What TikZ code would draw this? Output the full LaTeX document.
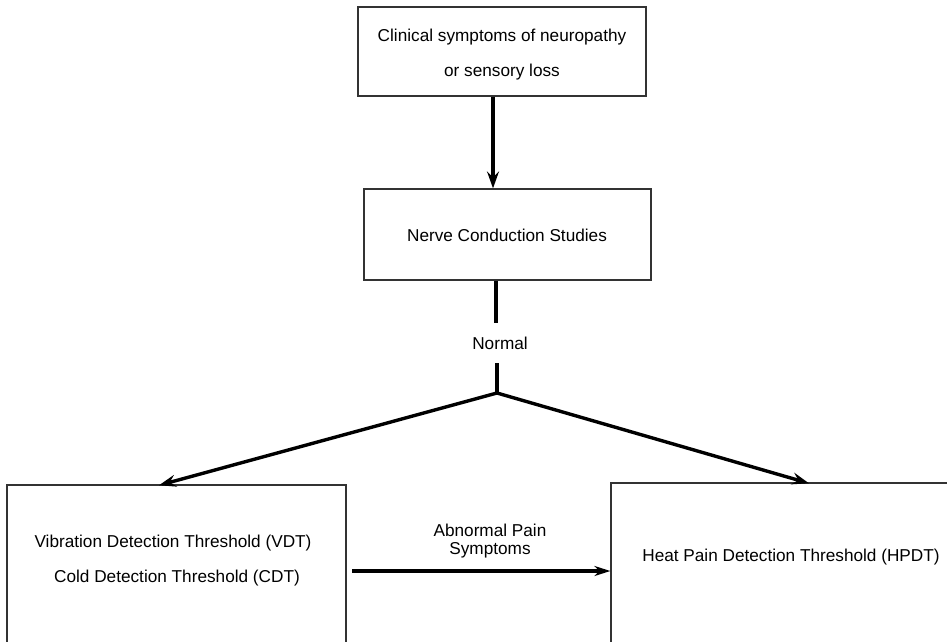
\documentclass[tikz,border=0pt]{standalone}
\usepackage{fontspec}
\setmainfont{Liberation Sans}
\usetikzlibrary{arrows.meta}
\begin{document}
\begin{tikzpicture}[x=1pt,y=-1pt,
  box/.style={draw=black!80,line width=1.2pt,rectangle,inner sep=0pt},
  txt/.style={font=\fontsize{17.2}{20}\selectfont,inner sep=0pt,anchor=center},
  arr/.style={line width=3.4pt,-{Stealth[length=17pt,width=12pt,inset=6pt]}},
  ln/.style={line width=3.4pt}]
\useasboundingbox (0,0) rectangle (947,642);
\clip (0,0) rectangle (947,642);
% boxes
\node[box,minimum width=288pt,minimum height=89pt] (top) at (502,51.5) {};
\node[txt] (toptxt1) at (502,37) {Clinical symptoms of neuropathy};
\node[txt] (toptxt2) at (502,72) {or sensory loss};
\node[box,minimum width=287pt,minimum height=91pt] (ncs) at (507.5,234.5) {};
\node[txt] (ncstxt) at (507,235) {Nerve Conduction Studies};
\node[box,minimum width=339pt,minimum height=190pt] (left) at (176.5,580) {};
\node[txt] (vdt) at (173,543) {Vibration Detection Threshold (VDT)};
\node[txt] (cdt) at (177,578) {Cold Detection Threshold (CDT)};
\node[box,minimum width=349pt,minimum height=190pt] (right) at (785.5,578) {};
\node[txt] (hpdt) at (791,557) {Heat Pain Detection Threshold (HPDT)};
\node[txt] (normal) at (500,343) {Normal};
\node[txt,align=center] (abn) at (490,541) {Abnormal Pain\\[-2pt]Symptoms};
% coordinates
\coordinate (j) at (497,393);
\coordinate (hs) at (352,571);
\coordinate (lt) at (160,485);
\coordinate (rt) at (808,483);
% connectors
\draw[arr] (top.south -| 493,0) -- (ncs.north -| 493,0);
\draw[ln] (ncs.south -| 496,0) -- (496,323);
\draw[ln] (497,363) -- (j);
\draw[arr,shorten >=-1pt] (j) -- (lt);
\draw[arr,shorten >=-1pt] (j) -- (rt);
\draw[arr,-{Stealth[length=16pt,width=10pt,inset=5pt]}] (hs) -- (right.west |- hs);
\end{tikzpicture}
\end{document}
